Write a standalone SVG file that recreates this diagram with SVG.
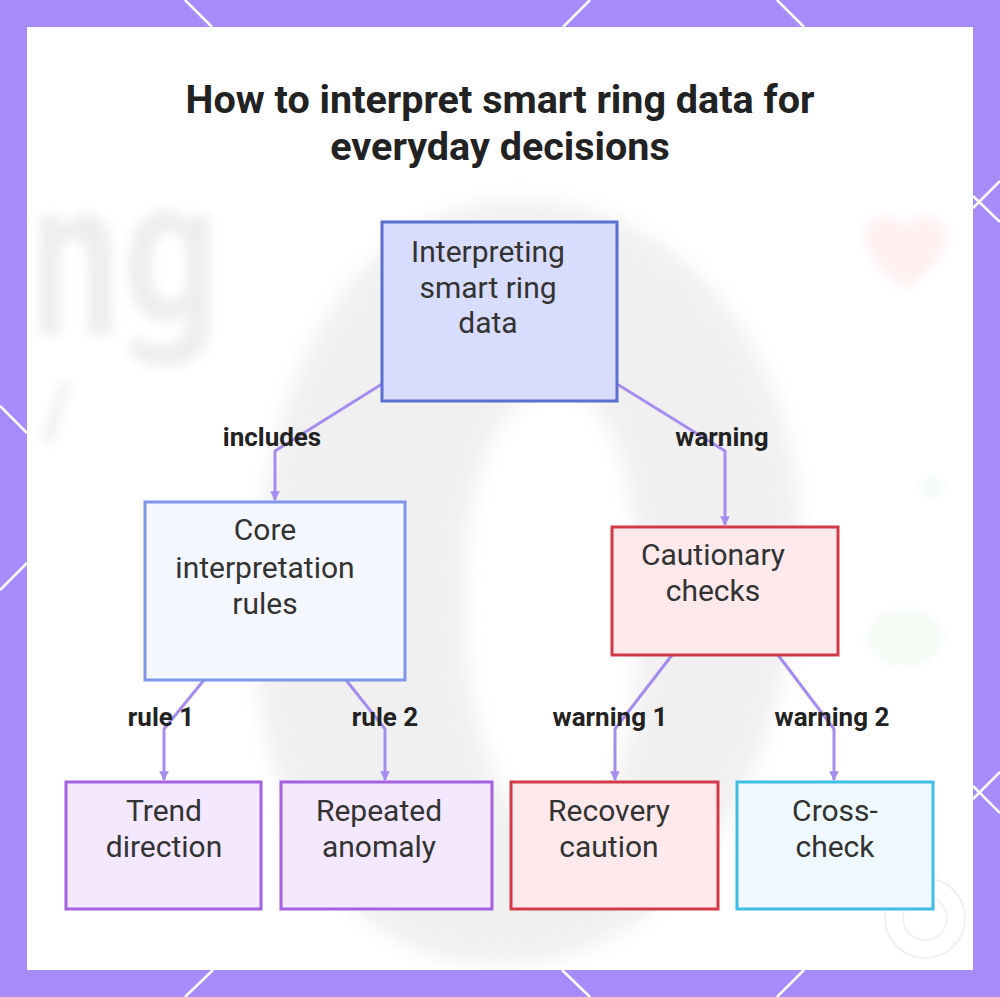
<svg xmlns="http://www.w3.org/2000/svg" width="1000" height="997" viewBox="0 0 1000 997">
<defs>
<style>
.title{font-family:Roboto,"Liberation Sans",sans-serif;font-weight:700;font-size:39.5px;fill:#222;text-anchor:middle}
.nt{font-family:Roboto,"Liberation Sans",sans-serif;font-size:30px;fill:#333;text-anchor:middle}
.lbl{font-family:Roboto,"Liberation Sans",sans-serif;font-weight:700;font-size:26px;fill:#222;text-anchor:middle}
.edge{fill:none;stroke:#a58cef;stroke-width:3;stroke-linejoin:round}
.bl{stroke:#ffffff;stroke-width:2.5}
</style>
<marker id="ah" viewBox="0 0 10 10" refX="9" refY="5" markerWidth="3.2" markerHeight="3.2" orient="auto" markerUnits="strokeWidth">
<path d="M0,0 L10,5 L0,10 z" fill="#a58cef"/>
</marker>
<filter id="blur" x="-20%" y="-20%" width="140%" height="140%"><feGaussianBlur stdDeviation="10"/></filter>
<filter id="blur2" x="-30%" y="-30%" width="160%" height="160%"><feGaussianBlur stdDeviation="6"/></filter>
<clipPath id="panel"><rect x="27" y="27" width="946" height="943"/></clipPath>
</defs>
<rect x="0" y="0" width="1000" height="997" fill="#a78bf8"/>
<g id="border-lines" class="bl">
<line x1="185" y1="0" x2="212" y2="27"/>
<line x1="590" y1="0" x2="563" y2="27"/>
<line x1="777" y1="0" x2="804" y2="27"/>
<line x1="973" y1="196" x2="1000" y2="222"/>
<line x1="973" y1="208" x2="1000" y2="181"/>
<line x1="973" y1="786" x2="1000" y2="813"/>
<line x1="973" y1="799" x2="1000" y2="772"/>
<line x1="0" y1="406" x2="27" y2="433"/>
<line x1="27" y1="563" x2="0" y2="590"/>
<line x1="213" y1="970" x2="185" y2="997"/>
<line x1="562" y1="970" x2="590" y2="997"/>
<line x1="804" y1="970" x2="777" y2="997"/>
</g>
<rect x="27" y="27" width="946" height="943" fill="#ffffff"/>
<g id="background" clip-path="url(#panel)">
<g filter="url(#blur)" opacity="0.75">
<path d="M520,200 C700,200 810,380 800,560 C790,760 690,965 500,965 C330,965 250,800 255,600 C260,380 350,200 520,200 Z M555,390 C500,390 462,480 465,610 C468,740 505,830 560,830 C615,830 640,730 638,600 C636,470 610,390 555,390 Z" fill="#ececec" fill-rule="evenodd"/>
</g>
<g filter="url(#blur2)" fill="#eceef0">
<path d="M40,215 L60,215 L60,230 C70,215 85,210 95,215 C110,222 112,240 112,260 L112,335 L88,335 L88,265 C88,248 82,240 72,240 C62,240 60,250 60,262 L60,335 L40,335 Z"/>
<path d="M168,210 C138,210 128,240 128,268 C128,298 140,322 166,322 C178,322 184,316 186,310 L186,322 C186,338 176,345 162,345 C150,345 142,340 136,336 L128,352 C138,362 152,366 166,366 C195,366 210,350 210,322 L210,215 L188,215 L187,225 C182,215 175,210 168,210 Z M170,232 C180,232 186,240 186,252 L186,282 C186,294 180,300 170,300 C158,300 152,290 152,268 C152,245 158,232 170,232 Z" fill-rule="evenodd"/>
<path d="M42,440 L62,380 L70,384 L52,444 Z"/>
</g>
<path d="M905,290 C880,270 862,252 865,232 C868,214 892,210 905,226 C918,210 944,214 946,234 C948,254 930,270 905,290 Z" fill="#fff0f1" filter="url(#blur2)"/>
<circle cx="932" cy="487" r="10" fill="#eef9f6" filter="url(#blur2)"/>
<ellipse cx="905" cy="638" rx="38" ry="28" fill="#f4faf4" filter="url(#blur2)"/>
<circle cx="925" cy="918" r="40" fill="none" stroke="#f1f1f1" stroke-width="2"/>
<circle cx="925" cy="918" r="22" fill="none" stroke="#f2f2f2" stroke-width="2"/>
</g>
<g id="title">
<text class="title" x="500" y="113">How to interpret smart ring data for</text>
<text class="title" x="500" y="160">everyday decisions</text>
</g>
<g id="connectors">
<polyline class="edge" points="382,384 275,451 275,500" marker-end="url(#ah)"/>
<polyline class="edge" points="617,384 725,451 725,525" marker-end="url(#ah)"/>
<polyline class="edge" points="204,680 164,729 164,780" marker-end="url(#ah)"/>
<polyline class="edge" points="346,680 385,729 385,780" marker-end="url(#ah)"/>
<polyline class="edge" points="672,655 615,729 615,780" marker-end="url(#ah)"/>
<polyline class="edge" points="778,655 834,729 834,780" marker-end="url(#ah)"/>
<text class="lbl" x="272" y="446">includes</text>
<text class="lbl" x="722" y="446">warning</text>
<text class="lbl" x="161" y="726">rule 1</text>
<text class="lbl" x="385" y="726">rule 2</text>
<text class="lbl" x="610" y="726">warning 1</text>
<text class="lbl" x="832" y="726">warning 2</text>
</g>
<g id="node-root">
<rect x="382" y="222" width="235" height="179" fill="#d8dcfd" stroke="#5b6fd1" stroke-width="3"/>
<text class="nt" x="488" y="262">Interpreting</text>
<text class="nt" x="488" y="298">smart ring</text>
<text class="nt" x="488" y="333">data</text>
</g>
<g id="node-core">
<rect x="145" y="502" width="260" height="178" fill="#f5f7ff" stroke="#7f95e8" stroke-width="3"/>
<text class="nt" x="265" y="540">Core</text>
<text class="nt" x="265" y="578">interpretation</text>
<text class="nt" x="265" y="614">rules</text>
</g>
<g id="node-caution">
<rect x="612" y="527" width="226" height="128" fill="#ffe9ec" stroke="#d23a4a" stroke-width="3"/>
<text class="nt" x="713" y="565">Cautionary</text>
<text class="nt" x="713" y="601">checks</text>
</g>
<g id="node-trend">
<rect x="66" y="782" width="195" height="127" fill="#f3e8ff" stroke="#a461e0" stroke-width="3"/>
<text class="nt" x="164" y="821">Trend</text>
<text class="nt" x="164" y="857">direction</text>
</g>
<g id="node-anomaly">
<rect x="281" y="782" width="211" height="127" fill="#f3e8ff" stroke="#a461e0" stroke-width="3"/>
<text class="nt" x="379" y="821">Repeated</text>
<text class="nt" x="379" y="857">anomaly</text>
</g>
<g id="node-recovery">
<rect x="511" y="782" width="207" height="127" fill="#ffe9ec" stroke="#d23a4a" stroke-width="3"/>
<text class="nt" x="609" y="821">Recovery</text>
<text class="nt" x="609" y="857">caution</text>
</g>
<g id="node-crosscheck">
<rect x="737" y="782" width="196" height="127" fill="#eef8fe" stroke="#3fbde3" stroke-width="3"/>
<text class="nt" x="835" y="821">Cross-</text>
<text class="nt" x="835" y="857">check</text>
</g>
</svg>
